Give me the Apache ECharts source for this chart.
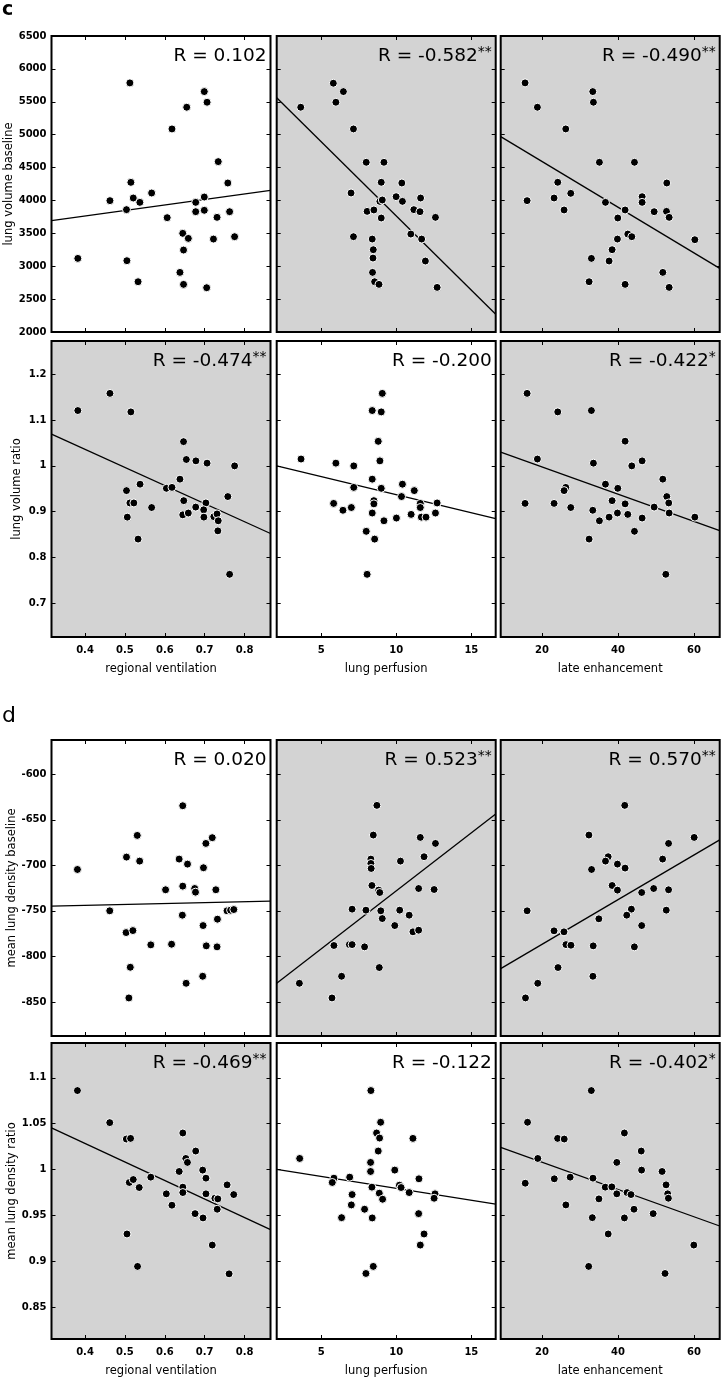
<!DOCTYPE html>
<html>
<head>
<meta charset="utf-8">
<title>lung volume and density correlations</title>
<script src="https://cdn.jsdelivr.net/npm/echarts@6/dist/echarts.min.js"></script>
<style>
  html, body { margin: 0; padding: 0; background: #fff; }
  #chart { width: 722px; height: 1381px; }
</style>
</head>
<body>
<div id="chart"></div>
<script>
// x variables (columns)
const colNames = ['regional ventilation', 'lung perfusion', 'late enhancement']
const ventRange = [0.316, 0.865]
const perfRange = [2.04, 16.62]
const lateRange = [9.1, 66.8]
const ventTicks = [0.4, 0.5, 0.6, 0.7, 0.8]
const perfTicks = [5, 10, 15]
const lateTicks = [20, 40, 60]

// y variables (rows)
const rowNames = ['lung volume baseline', 'lung volume ratio', 'mean lung density baseline', 'mean lung density ratio']
const volBaseRange = [2000, 6500]
const volRatioRange = [0.626, 1.273]
const densBaseRange = [-887.4, -562.3]
const densRatioRange = [0.815, 1.138]
const volBaseTicks = [2000, 2500, 3000, 3500, 4000, 4500, 5000, 5500, 6000, 6500]
const volRatioTicks = [0.7, 0.8, 0.9, 1, 1.1, 1.2]
const densBaseTicks = [-850, -800, -750, -700, -650, -600]
const densRatioTicks = [0.85, 0.9, 0.95, 1, 1.05, 1.1]

// correlation labels, row by row
const rValues = ['0.102', '-0.582', '-0.490', '-0.474', '-0.200', '-0.422', '0.020', '0.523', '0.570', '-0.469', '-0.122', '-0.402']
const rStars = ['', '**', '**', '**', '', '*', '', '**', '**', '**', '', '*']
const shaded = [false, true, true, true, false, true, false, true, true, true, false, true]

// regression lines [slope, intercept]
const fits = [
  [838, 3427.2], [-225.7, 6020.4], [-34.71, 5285.9],
  [-0.3957, 1.1945], [-0.00791, 1.0164], [-0.00298, 1.0574],
  [10.3, -748.1], [12.76, -855.6], [2.451, -835.7],
  [-0.2022, 1.1092], [-0.0026, 1.0055], [-0.001485, 1.0375]
]

// c: lung volume
const volBaseVent = [[0.382,3119],[0.5125,5787],[0.4625,3997],[0.515,4275],[0.521,4037],[0.5375,3971],[0.504,3860],[0.567,4113],[0.505,3084],[0.533,2764],[0.606,3738],[0.618,5087],[0.655,5417],[0.699,5655],[0.706,5493],[0.734,4590],[0.758,4265],[0.699,4052],[0.6775,3971],[0.6775,3829],[0.699,3850],[0.731,3743],[0.7625,3829],[0.645,3500],[0.659,3423],[0.722,3413],[0.775,3449],[0.647,3246],[0.638,2906],[0.647,2724],[0.705,2673]]
const volBasePerf = [[3.64,5417],[5.81,5782],[6.48,5655],[5.98,5493],[7.15,5087],[8.0,4580],[9.18,4580],[9.0,4276],[10.37,4265],[6.99,4113],[9.99,4057],[10.41,3986],[11.62,4037],[8.91,3986],[9.07,4007],[8.06,3834],[8.51,3855],[11.17,3860],[11.58,3829],[9.0,3733],[12.61,3743],[7.15,3449],[10.97,3489],[11.69,3413],[8.4,3413],[8.47,3251],[8.45,3124],[11.94,3079],[8.42,2906],[8.56,2764],[8.85,2724],[12.72,2678]]
const volBaseLate = [[15.52,5787],[18.77,5417],[33.36,5655],[33.53,5493],[26.24,5087],[35.11,4580],[44.34,4580],[52.86,4265],[24.13,4276],[16.05,3997],[23.16,4037],[27.56,4108],[25.8,3855],[36.7,3971],[41.88,3855],[46.36,4057],[46.36,3971],[49.53,3829],[52.78,3834],[53.48,3743],[39.95,3733],[39.86,3413],[42.58,3489],[43.64,3449],[60.25,3403],[38.45,3251],[33.0,3119],[37.66,3079],[51.81,2906],[32.39,2764],[41.88,2724],[53.48,2678]]
const volRatioVent = [[0.382,1.121],[0.4625,1.1585],[0.515,1.118],[0.647,1.053],[0.654,1.014],[0.678,1.011],[0.706,1.006],[0.775,1.0],[0.638,0.971],[0.604,0.951],[0.618,0.953],[0.504,0.946],[0.538,0.96],[0.5125,0.919],[0.5225,0.919],[0.567,0.909],[0.506,0.888],[0.533,0.84],[0.6475,0.924],[0.645,0.893],[0.659,0.897],[0.6775,0.91],[0.703,0.919],[0.6975,0.904],[0.698,0.888],[0.723,0.889],[0.731,0.895],[0.734,0.88],[0.733,0.858],[0.758,0.933],[0.7625,0.763]]
const volRatioPerf = [[9.07,1.1585],[8.4,1.121],[9.0,1.118],[8.8,1.0537],[8.91,1.011],[3.66,1.015],[5.98,1.006],[7.17,1.0],[8.4,0.971],[7.17,0.953],[9.0,0.951],[10.41,0.96],[11.2,0.946],[10.35,0.933],[8.51,0.924],[8.51,0.917],[11.6,0.918],[11.6,0.909],[12.72,0.919],[5.83,0.918],[7.01,0.909],[6.45,0.903],[8.4,0.897],[10.99,0.894],[12.61,0.897],[11.67,0.888],[11.98,0.888],[10.01,0.886],[9.18,0.88],[8.0,0.857],[8.56,0.84],[8.06,0.763]]
const volRatioLate = [[16.05,1.1585],[24.13,1.118],[33.0,1.121],[41.88,1.054],[18.77,1.015],[33.53,1.006],[43.64,1.0],[46.36,1.011],[51.81,0.971],[36.7,0.96],[39.95,0.951],[26.24,0.953],[25.8,0.946],[52.86,0.933],[53.38,0.919],[15.52,0.918],[23.16,0.918],[27.56,0.909],[38.45,0.924],[41.88,0.917],[49.53,0.91],[33.36,0.903],[39.86,0.897],[42.58,0.894],[53.48,0.897],[35.11,0.88],[37.66,0.888],[46.36,0.886],[60.25,0.888],[44.34,0.857],[32.39,0.84],[52.6,0.763]]

// d: lung density
const densBaseVent = [[0.381,-704.5],[0.462,-749.9],[0.504,-690.9],[0.531,-667.1],[0.537,-695.3],[0.503,-773.8],[0.52,-771.6],[0.5135,-811.9],[0.51,-845.6],[0.565,-787.3],[0.617,-786.6],[0.602,-726.8],[0.645,-634.5],[0.636,-693.1],[0.657,-698.6],[0.645,-722.8],[0.675,-725.4],[0.677,-729.4],[0.644,-754.7],[0.697,-702.6],[0.703,-675.9],[0.719,-669.6],[0.728,-726.8],[0.696,-766.1],[0.732,-759.1],[0.704,-788.4],[0.731,-789.5],[0.695,-821.8],[0.6535,-829.5],[0.756,-749.9],[0.765,-749.2],[0.773,-748.5]]
const densBasePerf = [[8.71,-634.1],[8.47,-666.7],[11.6,-669.3],[12.61,-675.9],[11.85,-690.5],[10.28,-695.3],[8.31,-693.1],[8.31,-697.9],[8.33,-703.4],[8.38,-722.1],[8.83,-727.2],[8.9,-729.8],[11.49,-725.4],[12.52,-726.5],[7.06,-748.1],[7.98,-749.2],[8.97,-749.9],[9.07,-758.4],[10.23,-749.2],[10.86,-754.7],[9.9,-766.1],[11.11,-773.0],[11.49,-771.2],[5.85,-788.0],[6.88,-787.0],[7.06,-787.0],[7.89,-789.5],[8.87,-812.2],[6.36,-821.8],[3.55,-829.5],[5.72,-845.6]]
const densBaseLate = [[41.78,-634.1],[32.34,-666.7],[60.07,-669.3],[53.33,-675.9],[51.76,-693.1],[37.41,-690.5],[36.71,-695.3],[39.86,-698.6],[41.87,-703.0],[33.04,-704.5],[38.46,-722.1],[39.86,-727.2],[46.25,-729.8],[49.4,-725.4],[53.33,-726.8],[43.53,-748.1],[42.31,-754.7],[52.72,-749.2],[16.06,-749.9],[34.96,-758.7],[46.25,-766.1],[23.15,-771.9],[25.77,-773.0],[26.3,-787.0],[27.61,-787.7],[33.47,-788.4],[44.32,-789.5],[24.2,-812.2],[33.39,-821.8],[18.86,-829.5],[15.63,-845.6]]
const densRatioVent = [[0.381,1.0861],[0.462,1.0511],[0.5036,1.0332],[0.5143,1.0339],[0.6452,1.0398],[0.6775,1.0201],[0.6527,1.012],[0.6568,1.0077],[0.6361,0.9978],[0.695,0.9993],[0.7032,0.9905],[0.511,0.9858],[0.521,0.989],[0.5649,0.9916],[0.5359,0.9803],[0.6452,0.9807],[0.6452,0.9748],[0.6038,0.9734],[0.6179,0.961],[0.7032,0.9734],[0.7256,0.9686],[0.733,0.9679],[0.7314,0.9566],[0.6759,0.9518],[0.6958,0.9471],[0.7562,0.9832],[0.7728,0.9726],[0.5052,0.9296],[0.719,0.9175],[0.5317,0.8942],[0.7612,0.8861]]
const densRatioPerf = [[8.31,1.0861],[8.96,1.0515],[8.69,1.0398],[8.89,1.0343],[11.11,1.0339],[8.8,1.0201],[3.57,1.012],[8.29,1.0077],[8.29,0.9978],[9.9,0.9993],[5.85,0.9905],[5.74,0.9858],[6.9,0.9916],[11.51,0.9898],[8.38,0.9807],[10.21,0.9828],[10.32,0.9803],[10.86,0.9748],[8.87,0.9741],[9.09,0.9675],[7.06,0.9726],[12.58,0.9734],[12.52,0.9686],[7.01,0.9613],[7.89,0.9566],[11.49,0.9518],[6.36,0.9474],[8.4,0.9471],[11.85,0.9296],[11.6,0.9175],[8.47,0.8942],[7.98,0.8865]]
const densRatioLate = [[32.98,1.0861],[16.17,1.0515],[41.69,1.0398],[24.09,1.0339],[25.84,1.0332],[46.13,1.0201],[18.87,1.012],[39.69,1.0077],[46.22,0.9993],[51.62,0.9978],[23.22,0.9898],[27.4,0.9916],[33.41,0.9905],[15.56,0.985],[52.67,0.9832],[36.64,0.9807],[38.38,0.981],[39.69,0.9734],[42.39,0.9748],[43.43,0.9726],[53.1,0.9734],[53.28,0.9686],[34.98,0.9679],[26.27,0.9613],[44.22,0.9566],[49.27,0.9518],[33.24,0.9474],[41.69,0.9471],[37.42,0.9296],[59.98,0.9175],[32.28,0.8942],[52.4,0.8865]]

const points = [
  volBaseVent, volBasePerf, volBaseLate,
  volRatioVent, volRatioPerf, volRatioLate,
  densBaseVent, densBasePerf, densBaseLate,
  densRatioVent, densRatioPerf, densRatioLate
]
const colRanges = [ventRange, perfRange, lateRange]
const colTicks = [ventTicks, perfTicks, lateTicks]
const rowRanges = [volBaseRange, volRatioRange, densBaseRange, densRatioRange]
const rowTicks = [volBaseTicks, volRatioTicks, densBaseTicks, densRatioTicks]

// layout
const colLeft = [51.5, 276.7, 500.7]
const panelW = 219
const rowTop = [36, 341, 740, 1043]
const panelH = 296
const W = 722

const font = 'DejaVu Sans'
const fmt = (v) => String(Math.round(v * 100) / 100)

const myCharts = echarts.init(document.getElementById('chart'), null, { renderer: 'canvas' })

const grid = []
const xAxis = []
const yAxis = []
const series = []
const title = [
  { text: 'c', left: 2, top: 1, padding: 0, textStyle: { fontFamily: font, fontSize: 19, fontWeight: 'bold', color: '#000', lineHeight: 19 } },
  { text: 'd', left: 2, top: 705, padding: 0, textStyle: { fontFamily: font, fontSize: 22, fontWeight: 'normal', color: '#000', lineHeight: 22 } },
]

const tickStyle = { inside: true, length: 4, lineStyle: { color: '#000', width: 1 } }

for (let r = 0; r < 4; r++) {
  for (let c = 0; c < 3; c++) {
    const i = r * 3 + c
    grid.push({
      left: colLeft[c],
      top: rowTop[r],
      width: panelW,
      height: panelH,
      show: true,
      backgroundColor: shaded[i] ? '#d3d3d3' : '#ffffff',
      borderColor: '#000',
      borderWidth: 2,
    })
    const showX = r === 1 || r === 3
    const showY = c === 0
    // bottom / top x axes
    xAxis.push({
      gridIndex: i,
      type: 'value',
      min: colRanges[c][0],
      max: colRanges[c][1],
      position: 'bottom',
      axisLine: { show: false },
      splitLine: { show: false },
      axisTick: { ...tickStyle, customValues: colTicks[c] },
      axisLabel: {
        show: showX,
        customValues: colTicks[c],
        formatter: fmt,
        margin: 8,
        color: '#000',
        fontFamily: font,
        fontSize: 10,
        fontWeight: 'bold',
      },
      name: showX ? colNames[c] : '',
      nameLocation: 'middle',
      nameGap: 26,
      nameTextStyle: { fontFamily: font, fontSize: 11.5, color: '#000' },
    })
    xAxis.push({
      gridIndex: i,
      type: 'value',
      min: colRanges[c][0],
      max: colRanges[c][1],
      position: 'top',
      axisLine: { show: false },
      splitLine: { show: false },
      axisTick: { ...tickStyle, customValues: colTicks[c] },
      axisLabel: { show: false },
    })
    // left / right y axes
    yAxis.push({
      gridIndex: i,
      type: 'value',
      min: rowRanges[r][0],
      max: rowRanges[r][1],
      position: 'left',
      axisLine: { show: false },
      splitLine: { show: false },
      axisTick: { ...tickStyle, customValues: rowTicks[r] },
      axisLabel: {
        show: showY,
        customValues: rowTicks[r],
        formatter: fmt,
        margin: 5,
        color: '#000',
        fontFamily: font,
        fontSize: 10,
        fontWeight: 'bold',
      },
      name: showY ? rowNames[r] : '',
      nameLocation: 'middle',
      nameGap: 28,
      nameRotate: 90,
      nameTextStyle: { fontFamily: font, fontSize: 11.5, color: '#000' },
    })
    yAxis.push({
      gridIndex: i,
      type: 'value',
      min: rowRanges[r][0],
      max: rowRanges[r][1],
      position: 'right',
      axisLine: { show: false },
      splitLine: { show: false },
      axisTick: { ...tickStyle, customValues: rowTicks[r] },
      axisLabel: { show: false },
    })

    // regression line across the panel
    const [k, b] = fits[i]
    const x0 = colRanges[c][0]
    const x1 = colRanges[c][1]
    series.push({
      type: 'line',
      xAxisIndex: 2 * i,
      yAxisIndex: 2 * i,
      data: [[x0, k * x0 + b], [x1, k * x1 + b]],
      showSymbol: false,
      lineStyle: { color: '#000', width: 1.3 },
      z: 2,
      silent: true,
    })
    series.push({
      type: 'scatter',
      xAxisIndex: 2 * i,
      yAxisIndex: 2 * i,
      data: points[i],
      symbolSize: 8,
      itemStyle: { color: '#000', borderColor: '#fff', borderWidth: 1, opacity: 1 },
      z: 3,
    })

    title.push({
      text: '{r|R = ' + rValues[i] + '}{s|' + rStars[i] + '}',
      right: W - (colLeft[c] + panelW) + 4,
      top: rowTop[r] + 9,
      padding: 0,
      textStyle: {
        fontWeight: 'normal',
        rich: {
          r: { fontFamily: font, fontSize: 18.5, fontWeight: 'normal', color: '#000', lineHeight: 22 },
          s: { fontFamily: font, fontSize: 14, fontWeight: 'normal', color: '#000', lineHeight: 14, verticalAlign: 'top' },
        },
      },
    })
  }
}

myCharts.setOption({
  animation: false,
  backgroundColor: '#fff',
  title,
  grid,
  xAxis,
  yAxis,
  series,
})
</script>
</body>
</html>
